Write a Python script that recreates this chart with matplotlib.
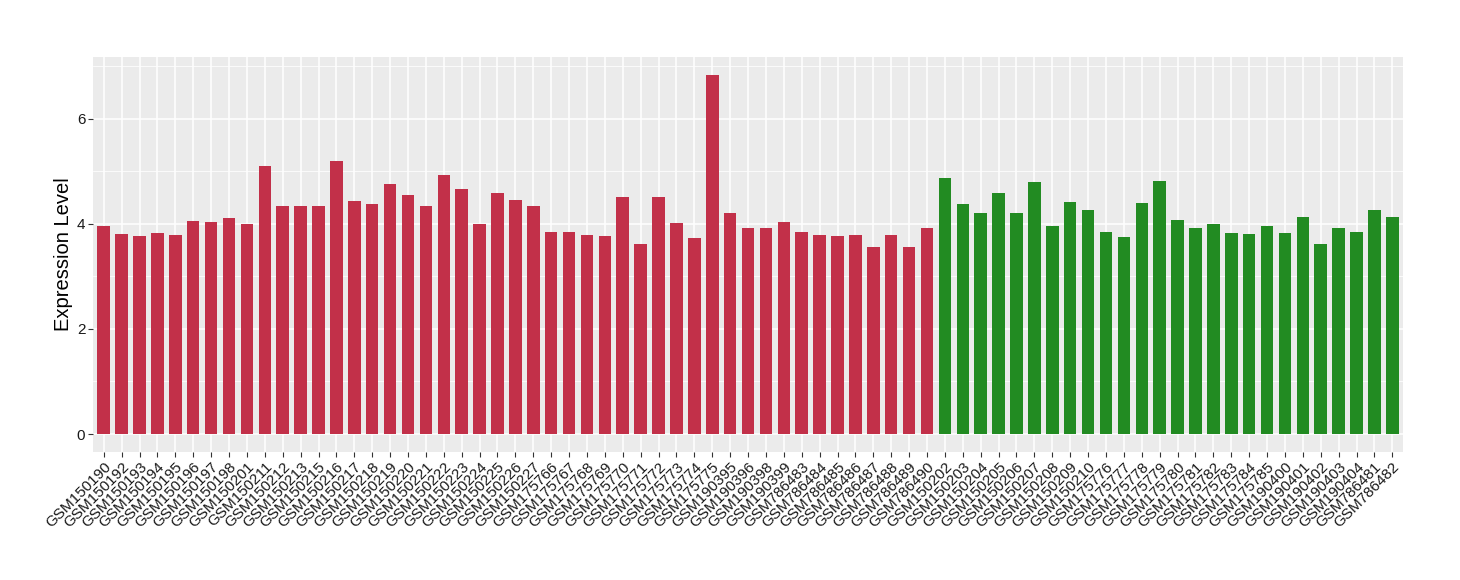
import numpy as np
import matplotlib
matplotlib.use("Agg")
import matplotlib.pyplot as plt
from matplotlib.ticker import MultipleLocator

plt.rcParams["font.family"] = ["Liberation Sans", "DejaVu Sans"]

# group 1 (red) samples and values
red_samples = [
    "GSM150190", "GSM150192", "GSM150193", "GSM150194", "GSM150195", "GSM150196",
    "GSM150197", "GSM150198", "GSM150201", "GSM150211", "GSM150212", "GSM150213",
    "GSM150215", "GSM150216", "GSM150217", "GSM150218", "GSM150219", "GSM150220",
    "GSM150221", "GSM150222", "GSM150223", "GSM150224", "GSM150225", "GSM150226",
    "GSM150227", "GSM175766", "GSM175767", "GSM175768", "GSM175769", "GSM175770",
    "GSM175771", "GSM175772", "GSM175773", "GSM175774", "GSM175775", "GSM190395",
    "GSM190396", "GSM190398", "GSM190399", "GSM786483", "GSM786484", "GSM786485",
    "GSM786486", "GSM786487", "GSM786488", "GSM786489", "GSM786490",
]
red_values = [
    3.95, 3.80, 3.76, 3.83, 3.78, 4.06, 4.03, 4.10, 3.99, 5.10, 4.33, 4.33,
    4.33, 5.19, 4.43, 4.37, 4.75, 4.54, 4.33, 4.92, 4.66, 3.99, 4.58, 4.46,
    4.33, 3.85, 3.85, 3.78, 3.76, 4.50, 3.62, 4.50, 4.01, 3.72, 6.83, 4.20,
    3.91, 3.91, 4.03, 3.85, 3.78, 3.76, 3.78, 3.55, 3.78, 3.55, 3.91,
]

# group 2 (green) samples and values
green_samples = [
    "GSM150202", "GSM150203", "GSM150204", "GSM150205", "GSM150206", "GSM150207",
    "GSM150208", "GSM150209", "GSM150210", "GSM175776", "GSM175777", "GSM175778",
    "GSM175779", "GSM175780", "GSM175781", "GSM175782", "GSM175783", "GSM175784",
    "GSM175785", "GSM190400", "GSM190401", "GSM190402", "GSM190403", "GSM190404",
    "GSM786481", "GSM786482",
]
green_values = [
    4.87, 4.37, 4.20, 4.58, 4.20, 4.79, 3.95, 4.41, 4.27, 3.85, 3.74, 4.39,
    4.81, 4.08, 3.91, 3.99, 3.83, 3.80, 3.95, 3.83, 4.12, 3.62, 3.91, 3.85,
    4.27, 4.12,
]

RED = "#C23049"
GREEN = "#228B22"

samples = red_samples + green_samples
values = red_values + green_values
colors = [RED] * len(red_samples) + [GREEN] * len(green_samples)
x = np.arange(len(samples))

fig = plt.figure(figsize=(14.6, 5.8), dpi=100)
ax = fig.add_axes([0.0637, 0.2207, 0.8973, 0.681])
ax.set_facecolor("#EBEBEB")

ax.bar(x, values, width=0.7, color=colors, zorder=3)

ymax = max(values)
ax.set_ylim(-0.05 * ymax, 1.05 * ymax)
ax.set_xlim(-0.6, len(samples) - 0.4)

ax.yaxis.set_major_locator(MultipleLocator(2))
ax.yaxis.set_minor_locator(MultipleLocator(1))
ax.grid(which="major", axis="both", color="white", linewidth=1.1, zorder=0)
ax.grid(which="minor", axis="y", color="white", linewidth=0.55, zorder=0)

ax.set_xticks(x)
ax.set_xticklabels(samples, rotation=45, ha="right", va="top",
                   rotation_mode="anchor", fontsize=11)
ax.tick_params(axis="both", which="major", length=3.5, color="#333333",
               labelcolor="#1a1a1a", labelsize=11, pad=2)
ax.tick_params(axis="y", which="minor", length=0)
ax.set_ylabel("Expression Level", fontsize=14.5, labelpad=3)

for s in ax.spines.values():
    s.set_visible(False)

fig.savefig("out.png", dpi=100)
